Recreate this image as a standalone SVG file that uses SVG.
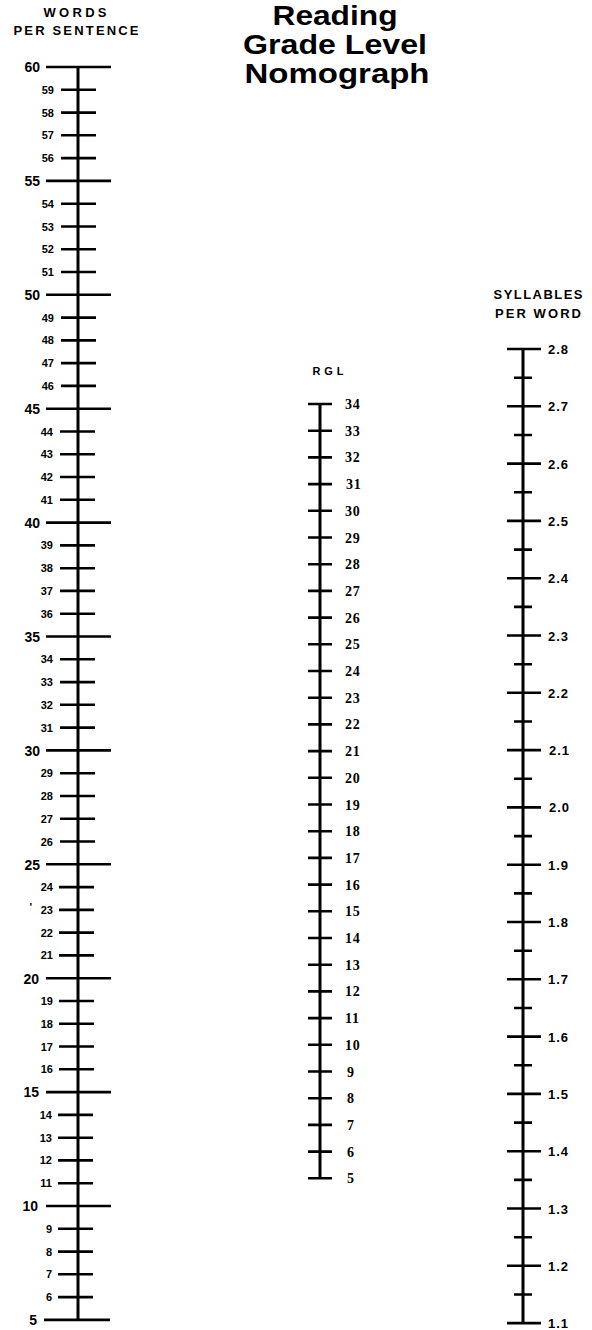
<svg xmlns="http://www.w3.org/2000/svg" width="592" height="1330" viewBox="0 0 592 1330">
<style>
.ax{stroke:#000;stroke-width:3;fill:none}
.tk{stroke:#000;stroke-width:2.6;fill:none}
.hd{font-family:"Liberation Sans",Arial,sans-serif;font-weight:bold;fill:#000}
.title{font-family:"Liberation Sans",Arial,sans-serif;font-weight:bold;font-size:28px;fill:#000;text-anchor:middle}
.lm{font-family:"Liberation Sans",Arial,sans-serif;font-weight:bold;font-size:14px;text-anchor:end;fill:#000}
.ln{font-family:"Liberation Sans",Arial,sans-serif;font-weight:bold;font-size:11px;text-anchor:end;fill:#000}
.lr{font-family:"Liberation Serif","Times New Roman",serif;font-weight:bold;font-size:14px;letter-spacing:0.8px;fill:#000}
.ls{font-family:"Liberation Sans",Arial,sans-serif;font-weight:bold;font-size:13px;letter-spacing:1px;fill:#000}
</style>
<rect width="592" height="1330" fill="#fff"/>
<g id="title">
<text class="title" x="335" y="25" textLength="125" lengthAdjust="spacingAndGlyphs">Reading</text>
<text class="title" x="335" y="54" textLength="184" lengthAdjust="spacingAndGlyphs">Grade Level</text>
<text class="title" x="337" y="83" textLength="185" lengthAdjust="spacingAndGlyphs">Nomograph</text>
</g>
<g id="words-per-sentence">
<text class="hd" x="75" y="17" font-size="13" text-anchor="middle" textLength="63" lengthAdjust="spacing">WORDS</text>
<text class="hd" x="76" y="35" font-size="13" text-anchor="middle" textLength="125" lengthAdjust="spacing">PER SENTENCE</text>
<path class="ax" d="M78 67V1320"/>
<path class="tk" d="M46 67H111M46 180.9H111M46 294.8H111M46 408.7H111M46 522.6H111M46 636.5H111M46 750.4H111M46 864.3H111M46 978.2H111M46 1092.1H111M46 1206H111M44 1319.9H110"/>
<path class="tk" d="M61 89.8H96M61 112.6H96M61 135.3H96M61 158.1H96M61 203.7H96M61 226.5H96M61 249.2H96M61 272H96M61 317.6H96M61 340.4H96M61 363.1H96M61 385.9H96M60 431.5H95M60 454.3H95M60 477H95M60 499.8H95M60 545.4H95M60 568.2H95M60 590.9H95M60 613.7H95M60 659.3H95M60 682.1H95M60 704.8H95M60 727.6H95M60 773.2H95M60 796H95M60 818.7H95M60 841.5H95M59 887.1H94M59 909.9H94M59 932.6H94M59 955.4H94M59 1001H94M59 1023.8H94M59 1046.5H94M59 1069.3H94M58 1114.9H93M58 1137.7H93M58 1160.4H93M58 1183.2H93M58 1228.8H93M58 1251.6H93M58 1274.3H93M58 1297.1H93"/>
<text class="lm" x="40" y="72">60</text>
<text class="lm" x="40" y="186">55</text>
<text class="lm" x="40" y="300">50</text>
<text class="lm" x="40" y="414">45</text>
<text class="lm" x="40" y="528">40</text>
<text class="lm" x="40" y="641.5">35</text>
<text class="lm" x="40" y="755.5">30</text>
<text class="lm" x="40" y="869.5">25</text>
<text class="lm" x="39" y="983.5">20</text>
<text class="lm" x="39" y="1097">15</text>
<text class="lm" x="38" y="1211">10</text>
<text class="lm" x="37" y="1325">5</text>
<text class="ln" x="54" y="93.8">59</text>
<text class="ln" x="54" y="116.6">58</text>
<text class="ln" x="54" y="139.3">57</text>
<text class="ln" x="54" y="162.1">56</text>
<text class="ln" x="54" y="207.7">54</text>
<text class="ln" x="54" y="230.5">53</text>
<text class="ln" x="54" y="253.2">52</text>
<text class="ln" x="54" y="276">51</text>
<text class="ln" x="54" y="321.6">49</text>
<text class="ln" x="54" y="344.4">48</text>
<text class="ln" x="54" y="367.1">47</text>
<text class="ln" x="54" y="389.9">46</text>
<text class="ln" x="53" y="435.5">44</text>
<text class="ln" x="53" y="458.3">43</text>
<text class="ln" x="53" y="481">42</text>
<text class="ln" x="53" y="503.8">41</text>
<text class="ln" x="53" y="549.4">39</text>
<text class="ln" x="53" y="572.2">38</text>
<text class="ln" x="53" y="594.9">37</text>
<text class="ln" x="53" y="617.7">36</text>
<text class="ln" x="53" y="663.3">34</text>
<text class="ln" x="53" y="686.1">33</text>
<text class="ln" x="53" y="708.8">32</text>
<text class="ln" x="53" y="731.6">31</text>
<text class="ln" x="53" y="777.2">29</text>
<text class="ln" x="53" y="800">28</text>
<text class="ln" x="53" y="822.7">27</text>
<text class="ln" x="53" y="845.5">26</text>
<text class="ln" x="53" y="891.1">24</text>
<text class="ln" x="53" y="913.9">23</text>
<text class="ln" x="32" y="911">'</text>
<text class="ln" x="53" y="936.6">22</text>
<text class="ln" x="53" y="959.4">21</text>
<text class="ln" x="53" y="1005">19</text>
<text class="ln" x="53" y="1027.8">18</text>
<text class="ln" x="53" y="1050.5">17</text>
<text class="ln" x="53" y="1073.3">16</text>
<text class="ln" x="52" y="1118.9">14</text>
<text class="ln" x="52" y="1141.7">13</text>
<text class="ln" x="52" y="1164.4">12</text>
<text class="ln" x="52" y="1187.2">11</text>
<text class="ln" x="52" y="1232.8">9</text>
<text class="ln" x="52" y="1255.6">8</text>
<text class="ln" x="52" y="1278.3">7</text>
<text class="ln" x="52" y="1301.1">6</text>
</g>
<g id="rgl">
<text class="hd" x="328" y="375" font-size="11" text-anchor="middle" textLength="31" lengthAdjust="spacing">RGL</text>
<path class="ax" d="M320 404V1178.3"/>
<path class="tk" d="M308 404H332M308 430.7H332M308 457.4H332M308 484.1H332M308 510.8H332M308 537.5H332M308 564.2H332M308 590.9H332M308 617.6H332M308 644.3H332M308 671H332M308 697.7H332M308 724.4H332M308 751.1H332M308 777.8H332M308 804.5H332M308 831.2H332M308 857.9H332M308 884.6H332M308 911.3H332M308 938H332M308 964.7H332M308 991.4H332M308 1018.1H332M308 1044.8H332M308 1071.5H332M308 1098.2H332M308 1124.9H332M308 1151.6H332M308 1178.3H332"/>
<text class="lr" x="345" y="409">34</text>
<text class="lr" x="345" y="435.7">33</text>
<text class="lr" x="345" y="462.4">32</text>
<text class="lr" x="346" y="489.1">31</text>
<text class="lr" x="345" y="515.8">30</text>
<text class="lr" x="345" y="542.5">29</text>
<text class="lr" x="345" y="569.2">28</text>
<text class="lr" x="345" y="595.9">27</text>
<text class="lr" x="345" y="622.6">26</text>
<text class="lr" x="345" y="649.3">25</text>
<text class="lr" x="345" y="676">24</text>
<text class="lr" x="345" y="702.7">23</text>
<text class="lr" x="345" y="729.4">22</text>
<text class="lr" x="345" y="756.1">21</text>
<text class="lr" x="345" y="782.8">20</text>
<text class="lr" x="345" y="809.5">19</text>
<text class="lr" x="345" y="836.2">18</text>
<text class="lr" x="345" y="862.9">17</text>
<text class="lr" x="345" y="889.6">16</text>
<text class="lr" x="345" y="916.3">15</text>
<text class="lr" x="345" y="943">14</text>
<text class="lr" x="345" y="969.7">13</text>
<text class="lr" x="345" y="996.4">12</text>
<text class="lr" x="345" y="1023.1">11</text>
<text class="lr" x="345" y="1049.8">10</text>
<text class="lr" x="347" y="1076.5">9</text>
<text class="lr" x="347" y="1103.2">8</text>
<text class="lr" x="347" y="1129.9">7</text>
<text class="lr" x="347" y="1156.6">6</text>
<text class="lr" x="347" y="1183.3">5</text>
</g>
<g id="syllables-per-word">
<text class="hd" x="538" y="299" font-size="13" text-anchor="middle" textLength="89" lengthAdjust="spacing">SYLLABLES</text>
<text class="hd" x="538" y="318" font-size="13" text-anchor="middle" textLength="86" lengthAdjust="spacing">PER WORD</text>
<path class="ax" d="M523 349V1323.1"/>
<path class="tk" d="M507 349H541M507 406.3H541M507 463.6H541M507 520.9H541M507 578.2H541M507 635.5H541M507 692.8H541M507 750.1H541M507 807.4H541M507 864.7H541M507 922H541M507 979.3H541M507 1036.6H541M507 1093.9H541M507 1151.2H541M507 1208.5H541M507 1265.8H541M507 1323.1H541"/>
<path class="tk" d="M514 377.7H532M514 435H532M514 492.3H532M514 549.6H532M514 606.9H532M514 664.2H532M514 721.5H532M514 778.8H532M514 836.1H532M514 893.4H532M514 950.7H532M514 1008H532M514 1065.3H532M514 1122.6H532M514 1179.9H532M514 1237.2H532M514 1294.5H532"/>
<text class="ls" x="548" y="354">2.8</text>
<text class="ls" x="548" y="411.3">2.7</text>
<text class="ls" x="548" y="468.6">2.6</text>
<text class="ls" x="548" y="525.9">2.5</text>
<text class="ls" x="548" y="583.2">2.4</text>
<text class="ls" x="548" y="640.5">2.3</text>
<text class="ls" x="548" y="697.8">2.2</text>
<text class="ls" x="549" y="755.1">2.1</text>
<text class="ls" x="549" y="812.4">2.0</text>
<text class="ls" x="548" y="869.7">1.9</text>
<text class="ls" x="548" y="927">1.8</text>
<text class="ls" x="548" y="984.3">1.7</text>
<text class="ls" x="548" y="1041.6">1.6</text>
<text class="ls" x="548" y="1098.9">1.5</text>
<text class="ls" x="548" y="1156.2">1.4</text>
<text class="ls" x="548" y="1213.5">1.3</text>
<text class="ls" x="548" y="1270.8">1.2</text>
<text class="ls" x="548" y="1328">1.1</text>
</g>
</svg>
